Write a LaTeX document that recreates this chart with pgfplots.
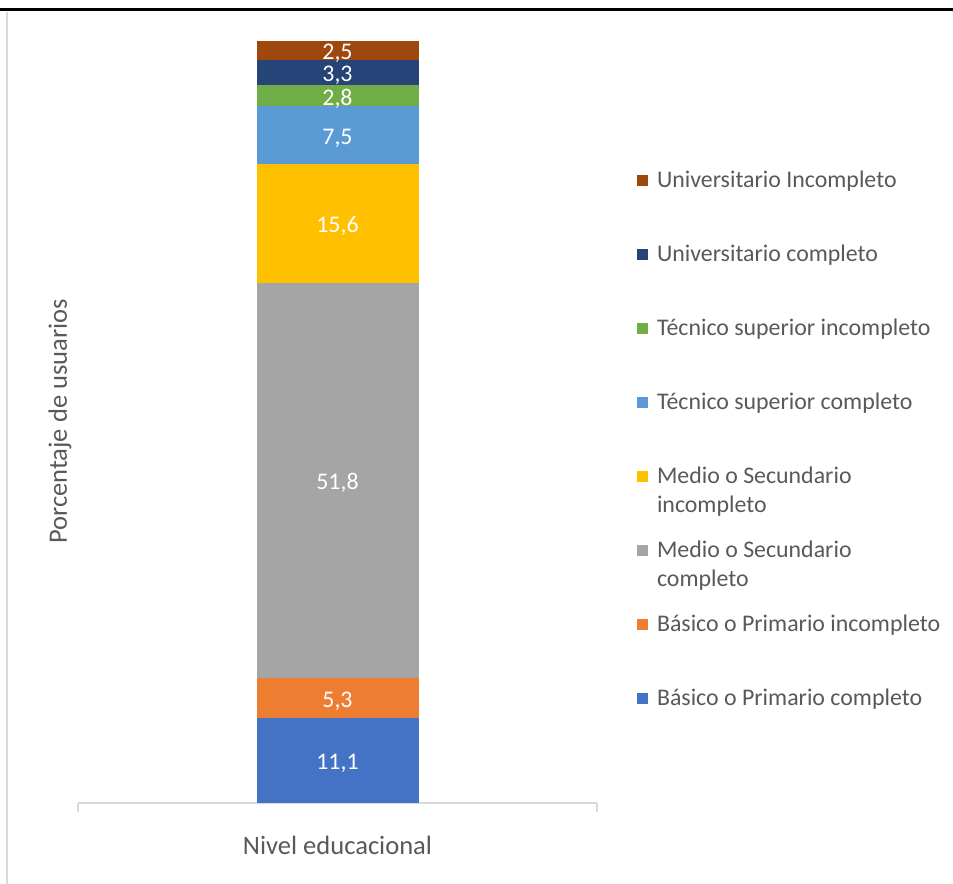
\documentclass[border=0pt]{standalone}
\usepackage{pgfplots}
\pgfplotsset{compat=1.18}
\usepackage{fontspec}
\setmainfont{Carlito}
\definecolor{cBasC}{HTML}{4472C4}
\definecolor{cBasI}{HTML}{ED7D31}
\definecolor{cMedC}{HTML}{A5A5A5}
\definecolor{cMedI}{HTML}{FFC000}
\definecolor{cTecC}{HTML}{5B9BD5}
\definecolor{cTecI}{HTML}{70AD47}
\definecolor{cUniC}{HTML}{264478}
\definecolor{cUniI}{HTML}{9E480E}
\definecolor{txt}{HTML}{595959}
\definecolor{axgrey}{HTML}{D9D9D9}
\newcommand\lfont{\fontsize{17.9}{21.75}\selectfont}
\newcommand\tfont{\fontsize{19.9}{24}\selectfont}
% every legend entry gets the same height, so a second line hangs into the gap
\newcommand\legtxt[1]{\raisebox{0pt}[12pt][4pt]{#1}}
\begin{document}
\begin{tikzpicture}
\useasboundingbox (0,0) rectangle (714.75pt,663pt);
\draw[line width=2.25pt] (0,655.9pt) -- (714.75pt,655.9pt);
\draw[axgrey, line width=1.5pt] (5.25pt,0) -- (5.25pt,654pt);
\begin{axis}[
  at={(58.5pt,60.75pt)}, anchor=south west,
  scale only axis, width=389.25pt, height=572.25pt,
  ymin=0, ymax=100, xmin=-1, xmax=1,
  ybar stacked, bar width=121.5pt,
  axis lines*=left,
  y axis line style={draw=none}, ytick=\empty,
  x axis line style={axgrey, line width=1.5pt},
  xtick=\empty,
  extra x ticks={-1,1}, extra x tick labels={},
  extra x tick style={major tick length=6.75pt, tick align=outside,
    tick style={axgrey, line width=1.5pt}},
  xlabel={Nivel educacional},
  ylabel={Porcentaje de usuarios},
  every axis x label/.style={at={(axis description cs:0.5,-0.055)}, anchor=center, text=txt, font=\tfont},
  every axis y label/.style={at={(axis description cs:-0.035,0.5)}, anchor=center, rotate=90, text=txt, font=\tfont},
  point meta=explicit,
  nodes near coords={\pgfmathprintnumber[fixed, fixed zerofill, precision=1, use comma, assume math mode=true]{\pgfplotspointmeta}},
  every node near coord/.append style={anchor=center, text=white, font=\lfont, yshift=-2.2pt},
  legend image code/.code={\fill[#1] (0pt,-4.1pt) rectangle (8.25pt,4.1pt);},
  reverse legend,
  legend cell align=left,
  legend style={draw=none, fill=none, inner sep=0pt, outer sep=0pt,
    at={(1.0771,0.8280)}, anchor=north west,
    row sep=42pt, column sep=6.75pt,
    nodes={inner sep=0pt, text=txt, font=\lfont}},
]
\addplot[fill=cBasC, draw=none] coordinates {(0,11.1) [11.1]};
\addplot[fill=cBasI, draw=none] coordinates {(0,5.3) [5.3]};
\addplot[fill=cMedC, draw=none] coordinates {(0,51.8) [51.8]};
\addplot[fill=cMedI, draw=none] coordinates {(0,15.6) [15.6]};
\addplot[fill=cTecC, draw=none] coordinates {(0,7.5) [7.5]};
\addplot[fill=cTecI, draw=none] coordinates {(0,2.8) [2.8]};
\addplot[fill=cUniC, draw=none] coordinates {(0,3.3) [3.3]};
\addplot[fill=cUniI, draw=none] coordinates {(0,2.5) [2.5]};
\legend{\legtxt{Básico o Primario completo},
  \legtxt{Básico o Primario incompleto},
  \legtxt{\parbox[t]{250pt}{Medio o Secundario\\completo}},
  \legtxt{\parbox[t]{250pt}{Medio o Secundario\\incompleto}},
  \legtxt{Técnico superior completo},
  \legtxt{Técnico superior incompleto},
  \legtxt{Universitario completo},
  \legtxt{Universitario Incompleto}}
\end{axis}
\end{tikzpicture}
\end{document}
